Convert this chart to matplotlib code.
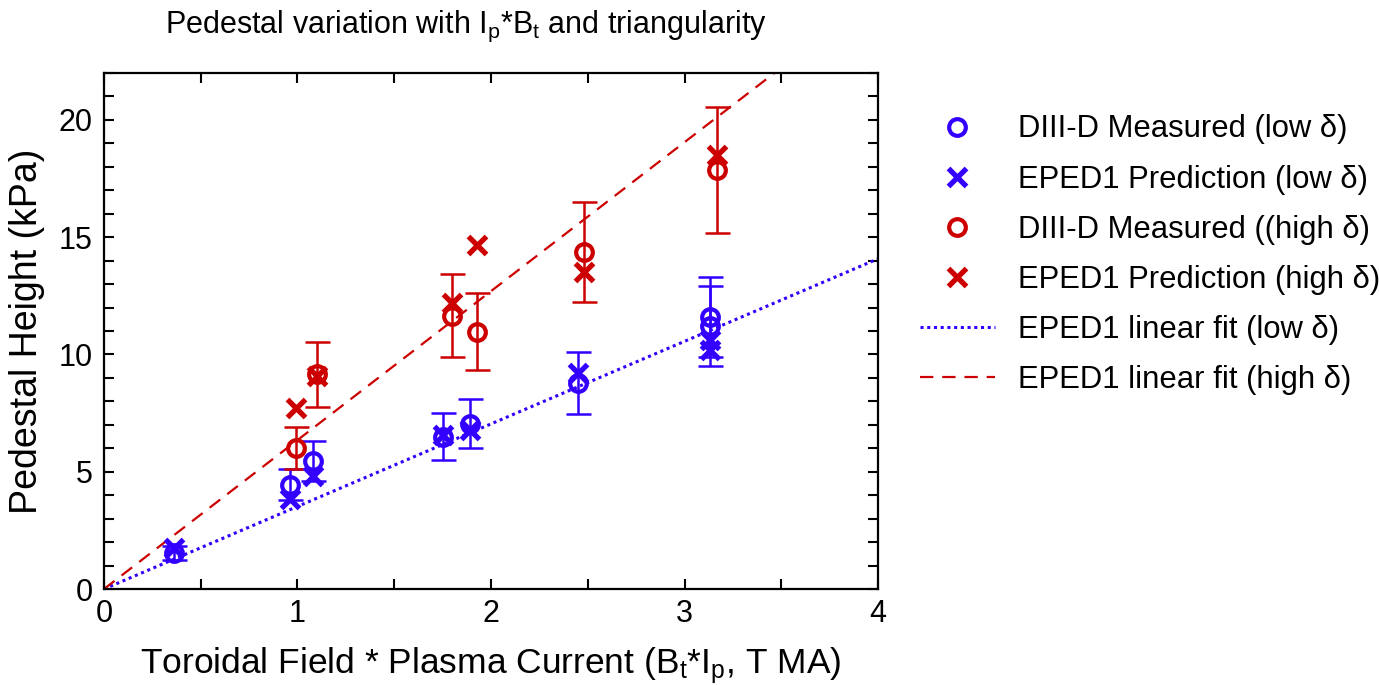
from matplotlib import pyplot as plt
from matplotlib.lines import Line2D
import numpy as np

# low triangularity (blue)
x_low = [0.36, 0.96, 1.08, 1.75, 1.89, 2.45, 3.13, 3.13]
meas_low = [1.55, 4.45, 5.45, 6.5, 7.05, 8.8, 11.6, 11.2]
err_low = [0.3, 0.65, 0.85, 1.0, 1.05, 1.32, 1.7, 1.7]
eped_low = [1.75, 3.85, 4.8, 6.55, 6.8, 9.2, 10.6, 10.2]

# high triangularity (red)
x_high = [0.99, 1.10, 1.80, 1.93, 2.48, 3.17]
meas_high = [6.0, 9.15, 11.65, 10.97, 14.37, 17.85]
err_high = [0.9, 1.38, 1.77, 1.64, 2.15, 2.68]
eped_high = [7.7, 9.1, 12.2, 14.65, 13.5, 18.5]

# linear fits through origin
fit_x = [0.0, 4.0]
slope_low = 3.52
slope_high = 6.35

labels = ["DIII-D Measured (low δ)", "EPED1 Prediction (low δ)",
          "DIII-D Measured ((high δ)", "EPED1 Prediction (high δ)",
          "EPED1 linear fit (low δ)", "EPED1 linear fit (high δ)"]

blue = '#3300ff'
red = '#cc0000'

plt.rcParams['font.family'] = ['Liberation Sans', 'DejaVu Sans']
plt.rcParams['mathtext.fontset'] = 'custom'
plt.rcParams['mathtext.rm'] = 'Liberation Sans'
plt.rcParams['mathtext.it'] = 'Liberation Sans'

fig = plt.figure(figsize=(13.79, 6.85), dpi=100)
ax = fig.add_axes([0.0754, 0.1401, 0.5613, 0.7533])

fx = np.array(fit_x)
ax.plot(fx, slope_low * fx, color=blue, ls=(0, (1, 1.2)), lw=2.2)
ax.plot(fx, slope_high * fx, color=red, ls=(0, (6, 4)), lw=1.6)

ax.errorbar(x_low, meas_low, yerr=err_low, fmt='none', ecolor=blue,
            elinewidth=1.8, capsize=9, capthick=1.8)
ax.errorbar(x_high, meas_high, yerr=err_high, fmt='none', ecolor=red,
            elinewidth=1.8, capsize=9, capthick=1.8)

ax.plot(x_low, meas_low, 'o', ms=12, mfc='none', mec=blue, mew=3)
ax.plot(x_low, eped_low, 'x', ms=13, color=blue, mew=3.8)
ax.plot(x_high, meas_high, 'o', ms=12, mfc='none', mec=red, mew=3)
ax.plot(x_high, eped_high, 'x', ms=13, color=red, mew=3.8)

ax.set_xlim(0, 4)
ax.set_ylim(0, 22)
ax.set_xticks([0, 1, 2, 3, 4])
ax.set_xticks(np.arange(0, 4.01, 0.5), minor=True)
ax.set_yticks([0, 5, 10, 15, 20])
ax.set_yticks(np.arange(0, 22.01, 1), minor=True)
ax.tick_params(which='both', direction='in', top=True, right=True,
               length=7, width=1.5, labelsize=22)
ax.tick_params(axis='y', pad=8)
ax.tick_params(axis='x', pad=7)
for s in ax.spines.values():
    s.set_linewidth(1.6)

ax.set_xlabel("Toroidal Field * Plasma Current (B$\\mathregular{_t}$*I$\\mathregular{_p}$, T MA)",
              fontsize=25.5, labelpad=12)
ax.set_ylabel("Pedestal Height (kPa)", fontsize=27, labelpad=10)

fig.text(0.338, 0.962, "Pedestal variation with I$\\mathregular{_p}$*B$\\mathregular{_t}$ and triangularity",
         fontsize=22, ha='center', va='center')

handles = [
    Line2D([], [], ls='none', marker='o', ms=12, mfc='none', mec=blue, mew=3),
    Line2D([], [], ls='none', marker='x', ms=13, color=blue, mew=3.8),
    Line2D([], [], ls='none', marker='o', ms=12, mfc='none', mec=red, mew=3),
    Line2D([], [], ls='none', marker='x', ms=13, color=red, mew=3.8),
    Line2D([], [], color=blue, ls=(0, (1, 1.2)), lw=2.2),
    Line2D([], [], color=red, ls=(0, (6, 4)), lw=1.6),
]
fig.legend(handles, labels, loc='upper left', bbox_to_anchor=(0.667, 0.833),
           frameon=False, fontsize=22.3, handlelength=2.42, handletextpad=0.74,
           labelspacing=0.65, borderaxespad=0, borderpad=0)

plt.savefig("out.png", dpi=100)
